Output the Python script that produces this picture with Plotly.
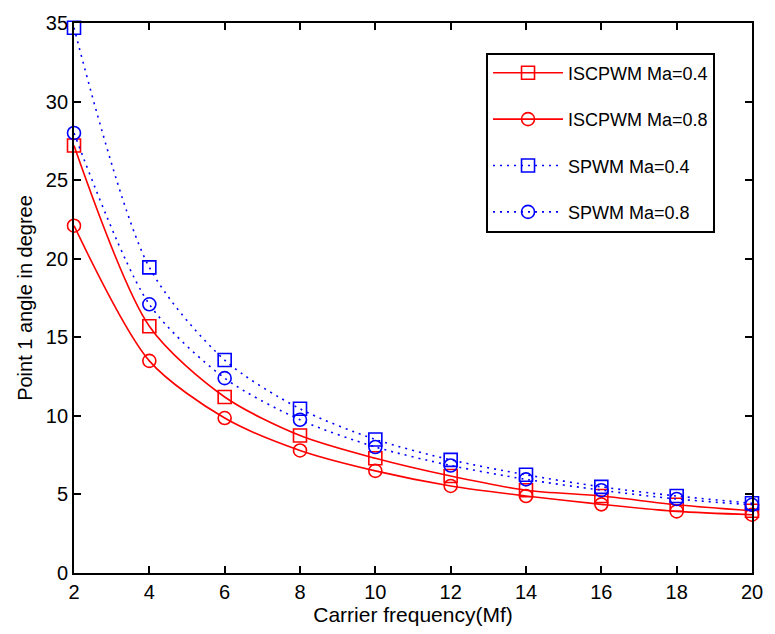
import plotly.graph_objects as go

carrier_freq = [2, 4, 6, 8, 10, 12, 14, 16, 18, 20]
iscpwm_04 = [27.2, 15.7, 11.2, 8.75, 7.3, 6.17, 5.27, 4.9, 4.34, 3.96]
iscpwm_08 = [22.1, 13.5, 9.86, 7.8, 6.5, 5.54, 4.9, 4.37, 3.92, 3.71]
spwm_04 = [34.7, 19.45, 13.55, 10.45, 8.5, 7.2, 6.25, 5.48, 4.9, 4.44]
spwm_08 = [28.0, 17.1, 12.4, 9.75, 8.02, 6.84, 5.96, 5.27, 4.71, 4.34]

series = [
    ("ISCPWM Ma=0.4", iscpwm_04, "#FF0000", "solid", "square-open"),
    ("ISCPWM Ma=0.8", iscpwm_08, "#FF0000", "solid", "circle-open"),
    ("SPWM Ma=0.4", spwm_04, "#0000FF", "2px,5px", "square-open"),
    ("SPWM Ma=0.8", spwm_08, "#0000FF", "2px,5px", "circle-open"),
]

fig = go.Figure()
for i, (name, vals, color, dash, sym) in enumerate(series):
    fig.add_trace(go.Scatter(
        x=carrier_freq, y=vals, name=name, mode="lines+markers",
        line=dict(color=color, width=1.6, dash=dash, shape="spline", smoothing=0.8),
        marker=dict(symbol=sym, size=13, color=color, line=dict(color=color, width=1.6)),
        legendgroup=f"g{i}", cliponaxis=False,
    ))

font_family = "Arial, Liberation Sans, sans-serif"
axis_common = dict(
    showline=True, linecolor="black", linewidth=1.8, mirror="ticks",
    ticks="inside", ticklen=7, tickwidth=1.5, tickcolor="black",
    showgrid=False, zeroline=False, ticklabeloverflow="allow",
    tickfont=dict(family=font_family, size=20, color="black"),
)

fig.update_layout(
    width=775, height=634,
    margin=dict(l=74, r=14, t=14, b=61),
    paper_bgcolor="white", plot_bgcolor="white",
    font=dict(family=font_family, color="black"),
    xaxis=dict(range=[2, 20], dtick=2, tick0=2,
               title=dict(text="Carrier frequency(Mf)", font=dict(size=21), standoff=2),
               **axis_common),
    yaxis=dict(range=[0, 35], dtick=5, tick0=0,
               title=dict(text="Point 1 angle in degree", font=dict(size=20), standoff=8),
               **axis_common),
    legend=dict(
        x=0.608, y=0.946, xanchor="left", yanchor="top",
        bgcolor="white", bordercolor="black", borderwidth=1.8,
        font=dict(family=font_family, size=18, color="black"),
        traceorder="grouped", tracegroupgap=20, itemwidth=70,
    ),
)

fig.write_html(
    "out.html",
    config={"displayModeBar": False},
    post_script="document.body.style.margin='0';document.body.style.overflow='hidden';",
)
